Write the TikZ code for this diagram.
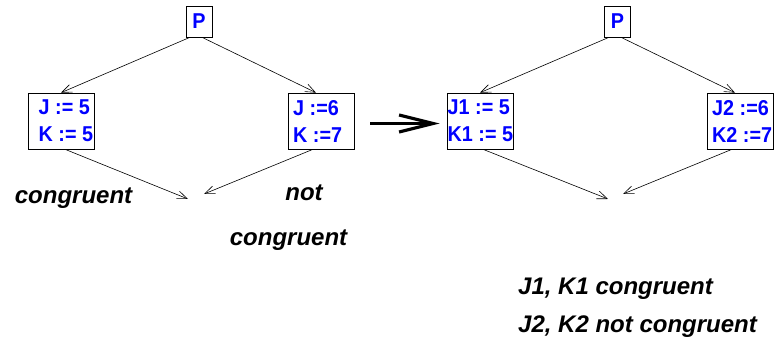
\documentclass[tikz,border=0pt]{standalone}
\usepackage{fontspec}
\setmainfont{Liberation Sans}
\newfontfamily\bluefont{Liberation Sans}[FakeStretch=0.92]
\usetikzlibrary{arrows.meta}
\begin{document}
\begin{tikzpicture}[x=1pt,y=-1pt,
  box/.style={draw=black, line width=0.6pt, minimum width=66pt, minimum height=56pt, inner sep=0pt},
  pbox/.style={draw=black, line width=0.6pt, minimum width=26pt, minimum height=31pt, inner sep=0pt, text=blue, font=\bluefont\fontsize{21.5}{24}\selectfont\bfseries},
  btext/.style={text=blue, font=\bluefont\fontsize{21.5}{27}\selectfont\bfseries, align=left, inner sep=0pt, anchor=west},
  ltext/.style={font=\fontsize{24}{28}\selectfont\bfseries\itshape, inner sep=0pt},
  edge/.style={line width=0.6pt, -{Straight Barb[length=10pt,width=8pt]}},
  bigarrow/.style={line width=3.2pt, -{Straight Barb[length=34pt,width=17pt]}}]
\useasboundingbox (0,0) rectangle (775,344);

% left diagram
\node[pbox] (P1) at (199,21.5) {P};
\node[box] (L1) at (61,121) {};
\node[btext] (L1t) at (38.5,121) {J := 5\\K := 5};
\node[box] (R1) at (321,121) {};
\node[btext] (R1t) at (293,121) {J :=6\\K :=7};
\coordinate (M1) at (188,199);
\coordinate (N1) at (204,194);
\draw[edge] ([xshift=-9pt]P1.south) -- (L1.north);
\draw[edge] ([xshift=3pt]P1.south) -- ([xshift=-5pt]R1.north);
\draw[edge] ([xshift=4pt]L1.south) -- (M1);
\draw[edge] ([xshift=-8pt]R1.south) -- (N1);
\node[ltext, anchor=base] (c1) at (73.5,204) {congruent};
\node[ltext, anchor=base] (n1) at (304,201) {not};
\node[ltext, anchor=base] (c2) at (288.5,246) {congruent};

% right diagram
\node[pbox] (P2) at (617.5,21.5) {P};
\node[box] (L2) at (480,121) {};
\node[btext] (L2t) at (447.5,121) {J1 := 5\\K1 := 5};
\node[box] (R2) at (740,121) {};
\node[btext] (R2t) at (712,121) {J2 :=6\\K2 :=7};
\coordinate (M2) at (608,199);
\coordinate (N2) at (623,194);
\draw[edge] ([xshift=-8.5pt]P2.south) -- (L2.north);
\draw[edge] ([xshift=3.5pt]P2.south) -- ([xshift=-5pt]R2.north);
\draw[edge] ([xshift=3pt]L2.south) -- (M2);
\draw[edge] ([xshift=-8pt]R2.south) -- (N2);
\node[ltext, anchor=base west] (s1) at (518,294) {J1, K1 congruent};
\node[ltext, anchor=base west] (s2) at (518,332) {J2, K2 not congruent};

% transformation arrow
\coordinate (A0) at (370,123.5);
\draw[bigarrow] (A0) -- ([xshift=-7pt,yshift=-2.5pt]L2.west);
\end{tikzpicture}
\end{document}
